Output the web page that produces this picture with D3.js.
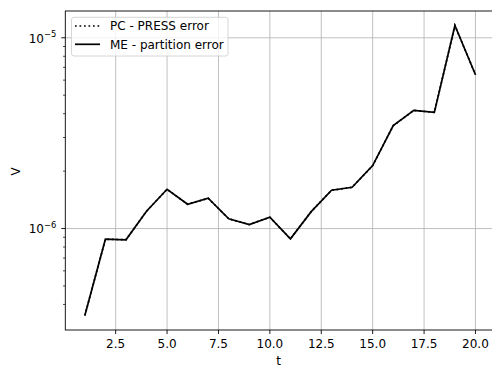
<!DOCTYPE html>
<html><head><meta charset="utf-8">
<script src="https://cdn.jsdelivr.net/npm/d3@7"></script>
<style>body{margin:0;background:#fff}svg{display:block;font-family:"DejaVu Sans",sans-serif}</style>
</head><body><svg id="c" width="492" height="367"></svg>
<script>
const tValues = [1,2,3,4,5,6,7,8,9,10,11,12,13,14,15,16,17,18,19,20];
const meValues = [3.50e-7,8.79e-7,8.73e-7,1.232e-6,1.606e-6,1.340e-6,1.441e-6,1.124e-6,1.050e-6,1.146e-6,8.83e-7,1.223e-6,1.587e-6,1.645e-6,2.137e-6,3.461e-6,4.163e-6,4.064e-6,1.160e-5,6.40e-6];
const pcValues = [3.50e-7,8.79e-7,8.73e-7,1.232e-6,1.606e-6,1.340e-6,1.441e-6,1.124e-6,1.050e-6,1.146e-6,8.83e-7,1.223e-6,1.587e-6,1.645e-6,2.137e-6,3.461e-6,4.163e-6,4.064e-6,1.160e-5,6.40e-6];
const xTicks = [2.5,5.0,7.5,10.0,12.5,15.0,17.5,20.0];
const yMajor = [-6,-5];
const yMinor = [4e-7,5e-7,6e-7,7e-7,8e-7,9e-7,2e-6,3e-6,4e-6,5e-6,6e-6,7e-6,8e-6,9e-6];
const legendLabels = ["PC - PRESS error","ME - partition error"];

const L=65.3, R=495, T=11, B=330;
const svg=d3.select("#c");
const xmin=d3.min(tValues), xmax=d3.max(tValues), xm=(xmax-xmin)*0.05;
const x=d3.scaleLinear().domain([xmin-xm,xmax+xm]).range([L,R]);
const all=meValues.concat(pcValues);
const lmin=Math.log10(d3.min(all)), lmax=Math.log10(d3.max(all)), lm=(lmax-lmin)*0.05;
const y=d3.scaleLog().domain([Math.pow(10,lmin-lm),Math.pow(10,lmax+lm)]).range([B,T]);
const fs=12, grid="#b0b0b0", lw=1.7;

// grid
svg.append("g").selectAll("line").data(xTicks).join("line")
 .attr("x1",d=>x(d)).attr("x2",d=>x(d)).attr("y1",T).attr("y2",B)
 .attr("stroke",grid).attr("stroke-width",0.8);
svg.append("g").selectAll("line").data(yMajor).join("line")
 .attr("x1",L).attr("x2",R).attr("y1",d=>y(Math.pow(10,d))).attr("y2",d=>y(Math.pow(10,d)))
 .attr("stroke",grid).attr("stroke-width",0.8);

// lines
const line=vals=>d3.line().x((d,i)=>x(tValues[i])).y(d=>y(d))(vals);
svg.append("path").attr("d",line(pcValues)).attr("fill","none").attr("stroke","#000").attr("stroke-width",lw).attr("stroke-dasharray","1.7,2.8");
svg.append("path").attr("d",line(meValues)).attr("fill","none").attr("stroke","#000").attr("stroke-width",lw).attr("stroke-linejoin","miter");

// spines
svg.append("rect").attr("x",L).attr("y",T).attr("width",R-L).attr("height",B-T).attr("fill","none").attr("stroke","#000").attr("stroke-width",0.9);

// x ticks
const xg=svg.append("g");
xTicks.forEach(t=>{
 xg.append("line").attr("x1",x(t)).attr("x2",x(t)).attr("y1",B).attr("y2",B+4).attr("stroke","#000").attr("stroke-width",0.9);
 xg.append("text").attr("x",x(t)).attr("y",B+18.3).attr("text-anchor","middle").attr("font-size",fs).attr("fill","#000").text(t.toFixed(1));
});
svg.append("text").attr("x",(L+R-3)/2).attr("y",365).attr("text-anchor","middle").attr("font-size",fs).text("t");

// y ticks
const yg=svg.append("g");
yMajor.forEach(e=>{
 const yy=y(Math.pow(10,e));
 yg.append("line").attr("x1",L-4).attr("x2",L).attr("y1",yy).attr("y2",yy).attr("stroke","#000").attr("stroke-width",0.9);
 const tx=yg.append("text").attr("x",L-9).attr("y",yy+4.8).attr("text-anchor","end").attr("font-size",fs);
 tx.append("tspan").text("10");
 tx.append("tspan").attr("font-size",fs*0.7).attr("dy",-5.5).text("\u2212"+Math.abs(e));
});
yMinor.forEach(v=>{
 const yy=y(v);
 yg.append("line").attr("x1",L-2.3).attr("x2",L).attr("y1",yy).attr("y2",yy).attr("stroke","#000").attr("stroke-width",0.7);
});
svg.append("text").attr("transform",`translate(20,${(T+B)/2+1}) rotate(-90)`).attr("text-anchor","middle").attr("font-size",fs).text("V");

// legend
const lg=svg.append("g");
lg.append("rect").attr("x",71.5).attr("y",17.3).attr("width",156.5).attr("height",38.7).attr("rx",2.5)
 .attr("fill","#fff").attr("fill-opacity",0.8).attr("stroke","#ccc").attr("stroke-width",0.8);
const rows=[26,44.3];
legendLabels.forEach((lab,i)=>{
 const ln=lg.append("line").attr("x1",75).attr("x2",100).attr("y1",rows[i]).attr("y2",rows[i]).attr("stroke","#000").attr("stroke-width",lw);
 if(i===0) ln.attr("stroke-dasharray","1.7,2.8");
 lg.append("text").attr("x",110).attr("y",rows[i]+4.3).attr("font-size",fs).text(lab);
});
</script></body></html>
